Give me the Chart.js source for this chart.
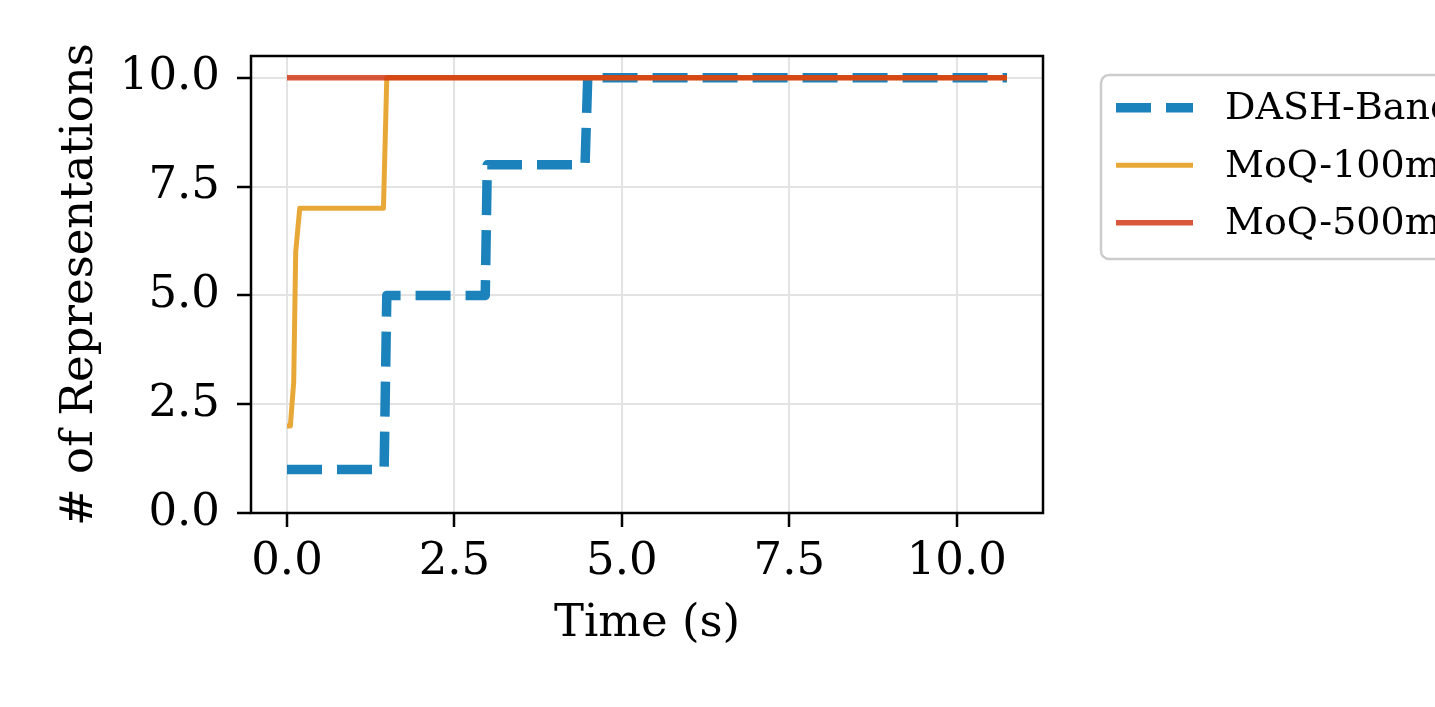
<!DOCTYPE html>
<html>
<head>
<meta charset="utf-8">
<title># of Representations over time</title>
<script src="https://cdn.jsdelivr.net/npm/chart.js@4.4.1/dist/chart.umd.min.js"></script>
<style>
  html, body { margin: 0; padding: 0; background: #fff; overflow: hidden; }
  #chart-container { position: relative; width: 1435px; height: 707px; }
</style>
</head>
<body>
<div id="chart-container"><canvas id="myChart"></canvas></div>
<script>
'use strict';

// series
const seriesNames = ['DASH-Bandwidth', 'MoQ-100ms', 'MoQ-500ms'];

const dashTime = [0, 1.45, 1.49, 2.96, 2.99, 4.45, 4.49, 10.75];
const dashReps = [1, 1, 5, 5, 8, 8, 10, 10];

const moq100Time = [0, 0.05, 0.1, 0.13, 0.19, 1.44, 1.49, 10.75];
const moq100Reps = [2, 2, 3, 6, 7, 7, 10, 10];

const moq500Time = [0, 10.75];
const moq500Reps = [10, 10];

const xTickValues = [0, 2.5, 5, 7.5, 10];
const yTickValues = [0, 2.5, 5, 7.5, 10];

const fontFamily = '"DejaVu Serif", serif';
const chartCanvas = document.getElementById('myChart');

function toPoints(times, values) {
    return times.map((t, i) => ({ x: t, y: values[i] }));
}

function useTicks(values) {
    return function (scale) {
        scale.ticks = values.map(v => ({ value: v }));
    };
}

// matplotlib style box round the plot area
const frame = {
    id: 'frame',
    afterDatasetsDraw(chart) {
        const a = chart.chartArea;
        const ctx = chart.ctx;
        ctx.save();
        ctx.lineWidth = 2.5;
        ctx.strokeStyle = '#000';
        ctx.strokeRect(a.left, a.top, a.right - a.left, a.bottom - a.top);
        ctx.restore();
    }
};

// legend sits outside the axes, cut off by the right edge
const legendBox = {
    id: 'legendBox',
    afterDraw(chart) {
        const ctx = chart.ctx;
        const left = 1101;
        const top = 75;
        const rowGap = 57.5;
        ctx.save();
        ctx.beginPath();
        ctx.roundRect(left, top, 420, 184, 8);
        ctx.fillStyle = 'rgba(255,255,255,0.8)';
        ctx.fill();
        ctx.lineWidth = 2.5;
        ctx.strokeStyle = '#cccccc';
        ctx.stroke();
        chart.data.datasets.forEach((ds, i) => {
            const y = top + 32.7 + i * rowGap;
            ctx.beginPath();
            ctx.setLineDash(ds.borderDash || []);
            ctx.lineWidth = ds.borderWidth;
            ctx.strokeStyle = ds.borderColor;
            ctx.moveTo(1116, y);
            ctx.lineTo(1193, y);
            ctx.stroke();
            ctx.setLineDash([]);
            ctx.fillStyle = '#000';
            ctx.font = '38px ' + fontFamily;
            ctx.textBaseline = 'middle';
            ctx.fillText(ds.label, 1225, y + 1.5);
        });
        ctx.restore();
    }
};

function createChart() {
    return new Chart(chartCanvas, {
        type: 'line',
        data: {
            datasets: [{
                label: seriesNames[0],
                data: toPoints(dashTime, dashReps),
                borderColor: 'rgb(27,130,187)',
                borderWidth: 9.5,
                borderDash: [35, 15],
                borderJoinStyle: 'round',
                pointRadius: 0,
                order: 3
            }, {
                label: seriesNames[1],
                data: toPoints(moq100Time, moq100Reps),
                borderColor: 'rgb(232,168,56)',
                borderWidth: 5,
                borderJoinStyle: 'round',
                pointRadius: 0,
                order: 2
            }, {
                label: seriesNames[2],
                data: toPoints(moq500Time, moq500Reps),
                borderColor: 'rgba(207,46,10,0.8)',
                borderWidth: 5.5,
                pointRadius: 0,
                order: 1
            }]
        },
        options: {
            responsive: true,
            maintainAspectRatio: false,
            animation: false,
            layout: {
                padding: { left: 0, top: 56, right: 392, bottom: 0 }
            },
            plugins: {
                legend: { display: false },
                tooltip: { enabled: false }
            },
            scales: {
                x: {
                    type: 'linear',
                    min: -0.5375,
                    max: 11.2875,
                    afterBuildTicks: useTicks(xTickValues),
                    afterFit: (scale) => { scale.height = 194; },
                    border: { display: false },
                    grid: {
                        color: '#e3e3e3',
                        lineWidth: 2,
                        tickColor: '#000',
                        tickWidth: 2.5,
                        tickLength: 14
                    },
                    ticks: {
                        autoSkip: false,
                        maxRotation: 0,
                        padding: 8,
                        color: '#000',
                        font: { family: fontFamily, size: 45 },
                        callback: (v) => Number(v).toFixed(1)
                    },
                    title: {
                        display: true,
                        text: 'Time (s)',
                        color: '#000',
                        font: { family: fontFamily, size: 45 },
                        padding: { top: 0, bottom: 56 }
                    }
                },
                y: {
                    type: 'linear',
                    min: 0,
                    max: 10.5,
                    afterBuildTicks: useTicks(yTickValues),
                    afterFit: (scale) => { scale.width = 251; },
                    border: { display: false },
                    grid: {
                        color: '#e3e3e3',
                        lineWidth: 2,
                        tickColor: '#000',
                        tickWidth: 2.5,
                        tickLength: 14
                    },
                    ticks: {
                        padding: 17,
                        color: '#000',
                        font: { family: fontFamily, size: 45 },
                        callback: (v) => Number(v).toFixed(1)
                    },
                    title: {
                        display: true,
                        text: '# of Representations',
                        color: '#000',
                        font: { family: fontFamily, size: 45 },
                        padding: { top: 53, bottom: 0 }
                    }
                }
            }
        },
        plugins: [frame, legendBox]
    });
}

createChart();
</script>
</body>
</html>
